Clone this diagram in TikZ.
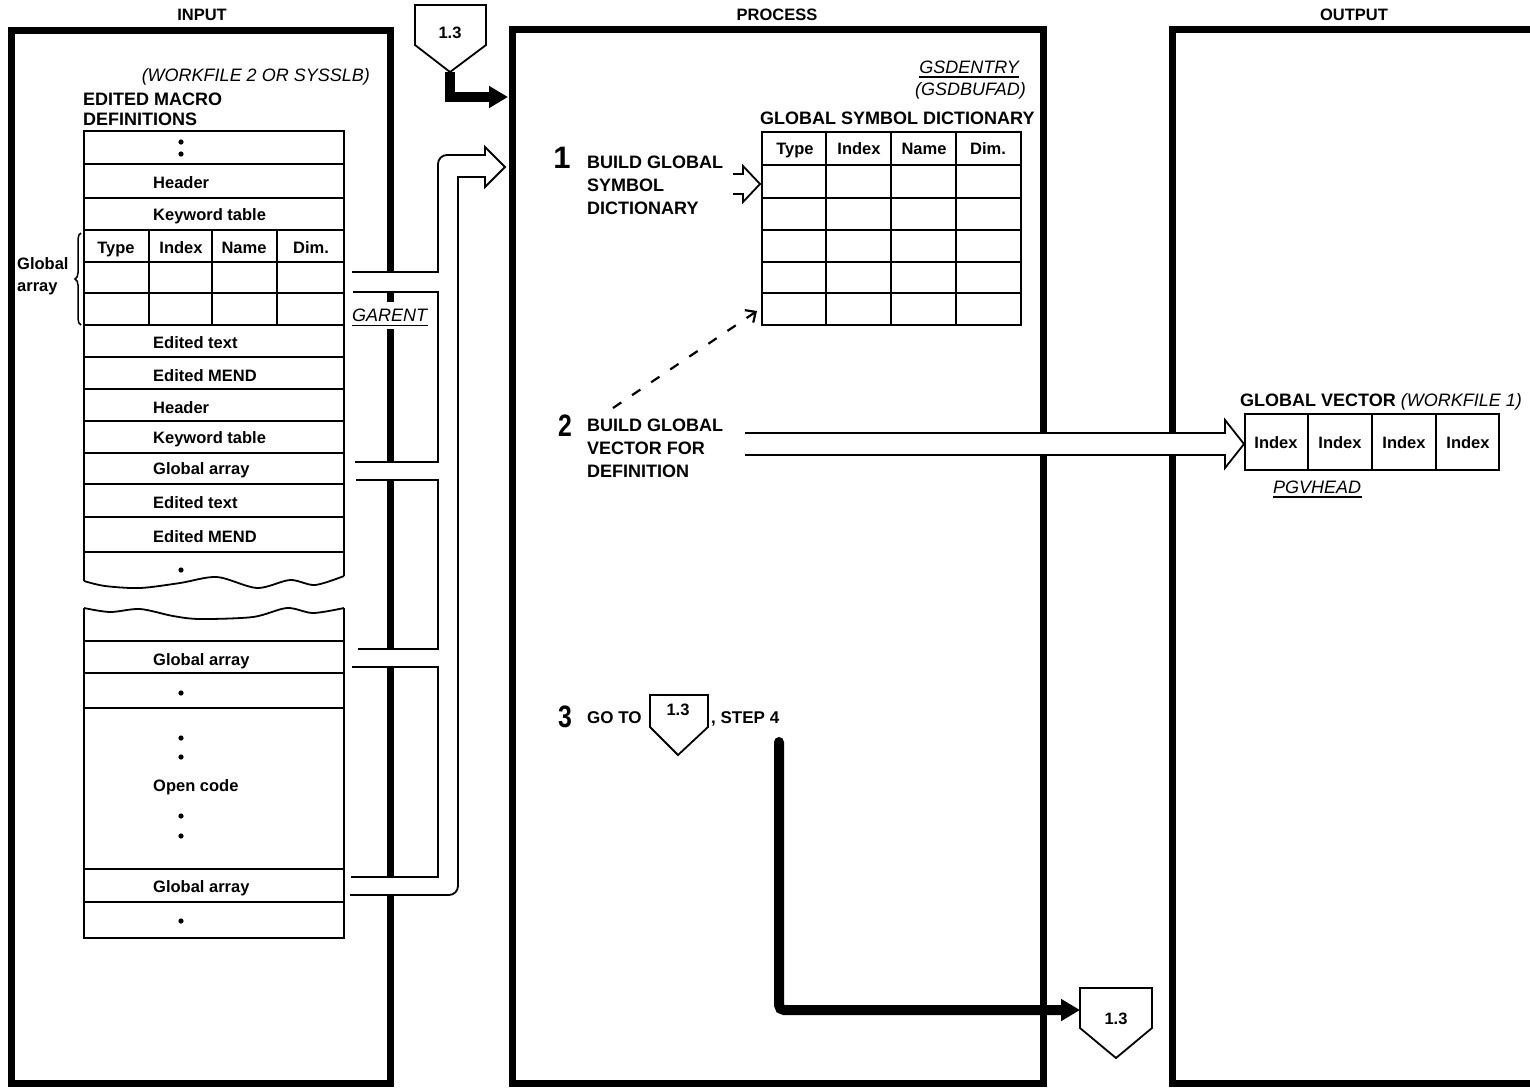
\documentclass[tikz,border=0pt]{standalone}
\usepackage{fontspec}
\setmainfont{Liberation Sans}
\usetikzlibrary{arrows.meta,decorations.pathreplacing}
\begin{document}
\begin{tikzpicture}[x=1pt,y=-1pt,
  frame/.style={line width=7pt, line join=miter},
  ln/.style={line width=1.8pt},
  heavy/.style={line width=10pt},
  cellt/.style={font=\fontsize{16.5}{18}\selectfont\bfseries, inner sep=0pt, anchor=base},
  cellw/.style={font=\fontsize{16.5}{18}\selectfont\bfseries, inner sep=0pt, anchor=base west},
  lblb/.style={font=\fontsize{18}{20}\selectfont\bfseries, inner sep=0pt, anchor=base west},
  lbli/.style={font=\fontsize{18}{20}\selectfont\itshape, inner sep=0pt},
  hdr/.style={font=\fontsize{16.5}{18}\selectfont\bfseries, inner sep=0pt, anchor=base},
  bigno/.style={font=\fontsize{31}{33}\selectfont\bfseries, inner sep=0pt, anchor=base},
  pent/.style={ln, fill=white, line join=miter},
  offtxt/.style={font=\fontsize{16.5}{18}\selectfont\bfseries, inner sep=0pt, anchor=base},
]
\useasboundingbox (0,0) rectangle (1530,1088);
\fill[white] (0,0) rectangle (1530,1088);
\begin{scope}
\clip (0,0) rectangle (1530,1088);

% ---------- column headers ----------
\node[hdr] (hin) at (202,20) {INPUT};
\node[hdr] (hpr) at (777,20) {PROCESS};
\node[hdr] (hout) at (1354,20) {OUTPUT};

% ---------- frames ----------
\draw[frame] (11,30) rectangle (390,1083);
\draw[frame] (512,29) rectangle (1043,1083);
\draw[frame] (1560,29) -- (1172,29) -- (1172,1083) -- (1560,1083);

% ---------- INPUT ----------
\node[lbli, anchor=base east] (wf2) at (370,81) {(WORKFILE 2 OR SYSSLB)};
\node[lblb] (emd1) at (83,105) {EDITED MACRO};
\node[lblb] (emd2) at (83,125) {DEFINITIONS};

% upper piece of the file
\draw[ln] (84,581) -- (84,131) -- (344,131) -- (344,576);
\foreach \yy in {164,198,230,262,293,325,357,389,421,453,484,517,552}
  \draw[ln] (84,\yy) -- (344,\yy);
\foreach \xx in {149,212,277}
  \draw[ln] (\xx,230) -- (\xx,325);
\draw[ln] plot[smooth] coordinates {(84,581) (105,586) (140,588) (180,583) (217,577) (257,588) (290,580) (315,585) (344,576)};
% lower piece of the file
\draw[ln] plot[smooth] coordinates {(84,608) (110,612) (140,609) (173,616) (200,619) (253,617) (287,608) (313,613) (344,608)};
\draw[ln] (84,608) -- (84,938) -- (344,938) -- (344,608);
\foreach \yy in {641,673,708,869,902}
  \draw[ln] (84,\yy) -- (344,\yy);

% dots
\foreach \yy in {142,154,570,693,738,757,816,836,921}
  \fill (181,\yy) circle (2.6pt);

% row texts
\node[cellw] (r1) at (153,188) {Header};
\node[cellw] (r2) at (153,220) {Keyword table};
\node[cellt] (c1) at (116,253) {Type};
\node[cellt] (c2) at (181,253) {Index};
\node[cellt] (c3) at (244,253) {Name};
\node[cellt] (c4) at (311,253) {Dim.};
\node[cellw] (r3) at (153,348) {Edited text};
\node[cellw] (r4) at (153,381) {Edited MEND};
\node[cellw] (r5) at (153,413) {Header};
\node[cellw] (r6) at (153,443) {Keyword table};
\node[cellw] (r7) at (153,474) {Global array};
\node[cellw] (r8) at (153,508) {Edited text};
\node[cellw] (r9) at (153,542) {Edited MEND};
\node[cellw] (r10) at (153,665) {Global array};
\node[cellw] (r11) at (153,791) {Open code};
\node[cellw] (r12) at (153,892) {Global array};

% global array brace
\draw[line width=1.5pt] decorate[decoration={brace,amplitude=6pt}] {(81,325) -- (81,233)};
\node[cellw] (ga1) at (17,269) {Global};
\node[cellw] (ga2) at (17,291) {array};

% ---------- hollow channel from input to process ----------
\fill[white] (353,272) -- (438,272) -- (438,155) -- (485,155) -- (485,147) -- (505,167)
  -- (485,187) -- (485,177) -- (458,177) -- (458,895) -- (351,895) -- (351,877)
  -- (438,877) -- (438,667) -- (352,667) -- (352,649) -- (438,649) -- (438,480)
  -- (356,480) -- (356,462) -- (438,462) -- (438,292) -- (353,292) -- cycle;
\coordinate (chtip) at (505,167);
\draw[ln, rounded corners=9pt, line cap=rect] (351,895) -- (458,895) -- (458,177);
\draw[ln, line cap=rect, line join=miter] (458,177) -- (485,177) -- (485,187) -- (chtip) -- (485,147) -- (485,155);
\draw[ln, rounded corners=9pt, line cap=rect] (485,155) -- (438,155) -- (438,272);
\draw[ln, line cap=rect] (438,272) -- (353,272);
\draw[ln, line join=miter] (353,292) -- (438,292) -- (438,462) -- (355,462);
\draw[ln, line join=miter] (356,480) -- (438,480) -- (438,649) -- (358,649);
\draw[ln, line join=miter] (352,667) -- (438,667) -- (438,877) -- (351,877);

% GARENT label over the input border
\fill[white] (382,302) rectangle (397,329);
\node[lbli, anchor=base west] (gar) at (352,321) {GARENT};
\draw[ln] (352,325.5) -- (428,325.5);

% ---------- off-page connector at top ----------
\draw[pent] (415,5) -- (486,5) -- (486,45) -- (450,72) -- (415,45) -- cycle;
\node[offtxt] (p1lab) at (450,38) {1.3};
\coordinate (p1tip) at (450,72);
\coordinate (p1in) at (508,97);
\draw[heavy, line join=miter, -{Triangle[length=19pt,width=21pt]}] (p1tip) -- (450,97) -- (p1in);

% ---------- PROCESS ----------
\node[lbli, anchor=base east] (gsde) at (1019,73) {GSDENTRY};
\draw[ln] (919,77) -- (1019,77);
\node[lbli, anchor=base east] (gsdb) at (1026,95) {(GSDBUFAD)};
\node[lblb] (gsdt) at (760,124) {GLOBAL SYMBOL DICTIONARY};

\draw[ln] (762,132) rectangle (1021,325);
\foreach \yy in {165,198,230,262,293}
  \draw[ln] (762,\yy) -- (1021,\yy);
\foreach \xx in {826,891,956}
  \draw[ln] (\xx,132) -- (\xx,325);
\node[cellt] (g1) at (795,154) {Type};
\node[cellt] (g2) at (859,154) {Index};
\node[cellt] (g3) at (924,154) {Name};
\node[cellt] (g4) at (988,154) {Dim.};

% step 1
\node[bigno] (n1) at (562,168) {1};
\node[lblb] (s1a) at (587,168) {BUILD GLOBAL};
\node[lblb] (s1b) at (587,191) {SYMBOL};
\node[lblb] (s1c) at (587,214) {DICTIONARY};
\coordinate (a1tip) at (760,184);
\draw[ln, line join=miter] (733,174) -- (743,174) -- (743,166) -- (a1tip) -- (743,202) -- (743,194) -- (733,194);

% dashed link
\coordinate (dsh0) at (613,408);
\coordinate (dsh1) at (757,311);
\draw[line width=2.2pt, dash pattern=on 10pt off 13pt, -{Straight Barb[length=8pt,width=15pt,line width=2.2pt]}] (dsh0) -- (dsh1);

% step 2
\node[bigno] (n2) at (565,436) {\scalebox{0.8}[1]{2}};
\node[lblb] (s2a) at (587,431) {BUILD GLOBAL};
\node[lblb] (s2b) at (587,454) {VECTOR FOR};
\node[lblb] (s2c) at (587,477) {DEFINITION};
\coordinate (a2tip) at (1244,444);
\fill[white] (745,433) -- (1225,433) -- (1225,420) -- (a2tip) -- (1225,468) -- (1225,455) -- (745,455) -- cycle;
\draw[ln, line join=miter] (745,433) -- (1225,433) -- (1225,420) -- (a2tip) -- (1225,468) -- (1225,455) -- (745,455);

% step 3
\node[bigno] (n3) at (565,727) {\scalebox{0.8}[1]{3}};
\node[lblb, font=\fontsize{17}{19}\selectfont\bfseries] (s3a) at (587,723) {GO TO};
\draw[pent] (650,695) -- (708,695) -- (708,727) -- (678,755) -- (650,727) -- cycle;
\node[offtxt] (p2lab) at (678,715) {1.3};
\node[lblb, font=\fontsize{17}{19}\selectfont\bfseries] (s3b) at (711,723) {, STEP 4};

% exit connector
\draw[pent] (1080,988) -- (1152,988) -- (1152,1028) -- (1116,1058) -- (1080,1028) -- cycle;
\node[offtxt] (p3lab) at (1116,1024) {1.3};
\coordinate (x0) at (779,742);
\coordinate (x1) at (1080,1010);
\draw[heavy, line cap=round, rounded corners=5pt, -{Triangle[length=19pt,width=21pt]}] (x0) -- (779,1010) -- (x1);

% ---------- OUTPUT ----------
\node[lblb] (gv) at (1240,406) {GLOBAL VECTOR \normalfont\itshape(WORKFILE 1)};
\draw[ln] (1245,414) rectangle (1499,470);
\foreach \xx in {1308,1372,1436}
  \draw[ln] (\xx,414) -- (\xx,470);
\node[cellt] (v1) at (1276,448) {Index};
\node[cellt] (v2) at (1340,448) {Index};
\node[cellt] (v3) at (1404,448) {Index};
\node[cellt] (v4) at (1468,448) {Index};
\node[lbli, anchor=base west] (pgv) at (1273,493) {PGVHEAD};
\draw[ln] (1273,497) -- (1362,497);
\end{scope}
\end{tikzpicture}
\end{document}
